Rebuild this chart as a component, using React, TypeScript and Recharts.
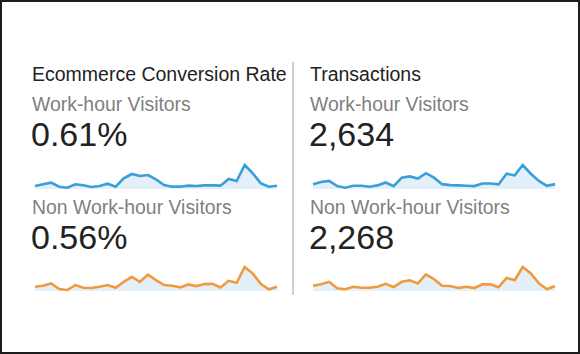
import React from "react";
import { AreaChart, Area, XAxis, YAxis } from "recharts";

// 31 days, one value per day
const days = Array.from({ length: 31 }, (_, i) => `Day ${i + 1}`);

// conversion rate (%) per day
const convWork = [0.27, 0.42, 0.57, 0.21, 0.12, 0.42, 0.33, 0.18, 0.27, 0.48, 0.21, 0.96, 1.35, 1.17, 1.26, 0.86, 0.36, 0.21, 0.21, 0.3, 0.27, 0.33, 0.33, 0.3, 0.9, 0.72, 2.16, 1.41, 0.51, 0.21, 0.3];
const convNonWork = [0.39, 0.48, 0.69, 0.18, 0.09, 0.54, 0.3, 0.27, 0.39, 0.54, 0.3, 0.84, 1.29, 0.84, 1.5, 0.99, 0.54, 0.48, 0.33, 0.6, 0.45, 0.63, 0.66, 0.33, 0.93, 0.75, 2.19, 1.59, 0.63, 0.15, 0.39];

// transactions per day
const txWork = [55, 80, 91, 33, 14, 36, 36, 25, 41, 74, 33, 129, 143, 118, 179, 129, 55, 44, 41, 36, 33, 63, 63, 52, 173, 154, 272, 173, 91, 36, 55];
const txNonWork = [58, 74, 102, 30, 19, 47, 36, 36, 47, 80, 44, 102, 118, 85, 184, 132, 58, 55, 33, 47, 33, 74, 74, 41, 146, 121, 267, 195, 85, 19, 55];

const titles = ["Ecommerce Conversion Rate", "Transactions"];
const segments = ["Work-hour Visitors", "Non Work-hour Visitors"];
const totals = [
  ["0.61%", "0.56%"],
  ["2,634", "2,268"],
];

const BLUE = "#3a9fd9";
const ORANGE = "#f09a3e";
const FILL = "#e3eff9";
const FONT = '"Liberation Sans", Arial, Helvetica, sans-serif';

function Spark({ values, color, left, top }: { values: number[]; color: string; left: number; top: number }) {
  const data = days.map((d, i) => ({ day: d, v: values[i] }));
  return (
    <div style={{ position: "absolute", left, top }}>
      <AreaChart width={252} height={32} data={data} margin={{ top: 5, right: 5, bottom: 3, left: 5 }}>
        <XAxis dataKey="day" hide />
        <YAxis hide domain={[0, "dataMax"]} />
        <Area
          type="linear"
          dataKey="v"
          stroke={color}
          strokeWidth={2.6}
          fill={FILL}
          fillOpacity={1}
          dot={false}
          activeDot={false}
          isAnimationActive={false}
        />
      </AreaChart>
    </div>
  );
}

const txt = (left: number, top: number, size: number, color: string): React.CSSProperties => ({
  position: "absolute",
  left,
  top,
  fontSize: size,
  lineHeight: 1,
  color,
  fontFamily: FONT,
  whiteSpace: "nowrap",
});

export default function App() {
  const cols = [
    { x: 32, sx: 30, series: [convWork, convNonWork] },
    { x: 310, sx: 308, series: [txWork, txNonWork] },
  ];
  return (
    <div
      style={{
        position: "absolute",
        left: 0,
        top: 0,
        width: 580,
        height: 354,
        boxSizing: "border-box",
        border: "2px solid #1c1c1c",
        background: "#fff",
        overflow: "hidden",
      }}
    >
      {cols.map((c, ci) => (
        <React.Fragment key={ci}>
          <div style={txt(c.x - 2, 63, 19.5, "#222")}>{titles[ci]}</div>
          {segments.map((s, si) => (
            <React.Fragment key={si}>
              <div style={txt(c.x - 2, 93 + si * 103, 19.4, "#808080")}>{s}</div>
              <div style={txt(c.x - 3, 115 + si * 103, 34, "#222")}>{totals[ci][si]}</div>
              <Spark
                values={c.series[si]}
                color={si === 0 ? BLUE : ORANGE}
                left={c.sx - 2}
                top={158 + si * 102}
              />
            </React.Fragment>
          ))}
        </React.Fragment>
      ))}
      <div style={{ position: "absolute", left: 290, top: 60, width: 2, height: 233, background: "#cfcfcf" }} />
    </div>
  );
}
